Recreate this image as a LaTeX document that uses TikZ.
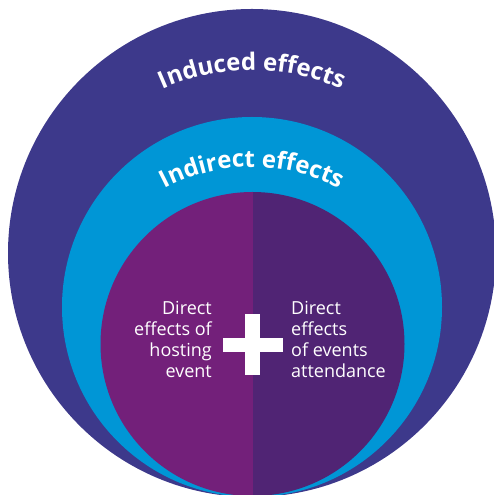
\documentclass[tikz,border=0pt]{standalone}
\usepackage{fontspec}
\setmainfont{Open Sans}
\usetikzlibrary{decorations.text}
\definecolor{outerc}{RGB}{61,57,139}
\definecolor{midc}{RGB}{0,150,214}
\definecolor{leftc}{RGB}{115,32,122}
\definecolor{rightc}{RGB}{80,36,116}
\tikzset{
  bodytext/.style={text=white, font=\fontsize{18}{21}\selectfont, inner sep=0pt},
  plusbar/.style={fill=white, draw=none}
}
\begin{document}
\begin{tikzpicture}[x=1pt,y=1pt]
\useasboundingbox (0,0) rectangle (493,495);
% outer circle
\fill[outerc] (252,242) circle (244);
% middle circle
\fill[midc] (252,188) circle (190);
% inner circle split
\begin{scope}
  \clip (252.5,151) circle (152);
  \fill[leftc] (90,-10) rectangle (252.5,310);
  \fill[rightc] (252.5,-10) rectangle (420,310);
\end{scope}
% curved labels
\path[decorate, decoration={text along path, text align=center,
  text={|\color{white}\bfseries\fontsize{24}{24}\selectfont|Induced effects}}]
  (252,207) ++(140:218) arc (140:40:218);
\path[decorate, decoration={text along path, text align=center,
  text={|\color{white}\bfseries\fontsize{24}{24}\selectfont|Indirect effects}}]
  (252,141) ++(145:187) arc (145:35:187);
% plus sign
\coordinate (pc) at (252.5,150);
\fill[plusbar] ([xshift=-30,yshift=-7]pc) rectangle ([xshift=30,yshift=7]pc);
\fill[plusbar] ([xshift=-7.5,yshift=-30.5]pc) rectangle ([xshift=7.5,yshift=30.5]pc);
% body texts
\node[bodytext, anchor=north east, align=right] (lt) at (212,193.5)
  {Direct\\effects of\\hosting\\event};
\node[bodytext, anchor=north west, align=left] (rt) at (291,193.5)
  {Direct\\effects\\of events\\attendance};
\end{tikzpicture}
\end{document}
